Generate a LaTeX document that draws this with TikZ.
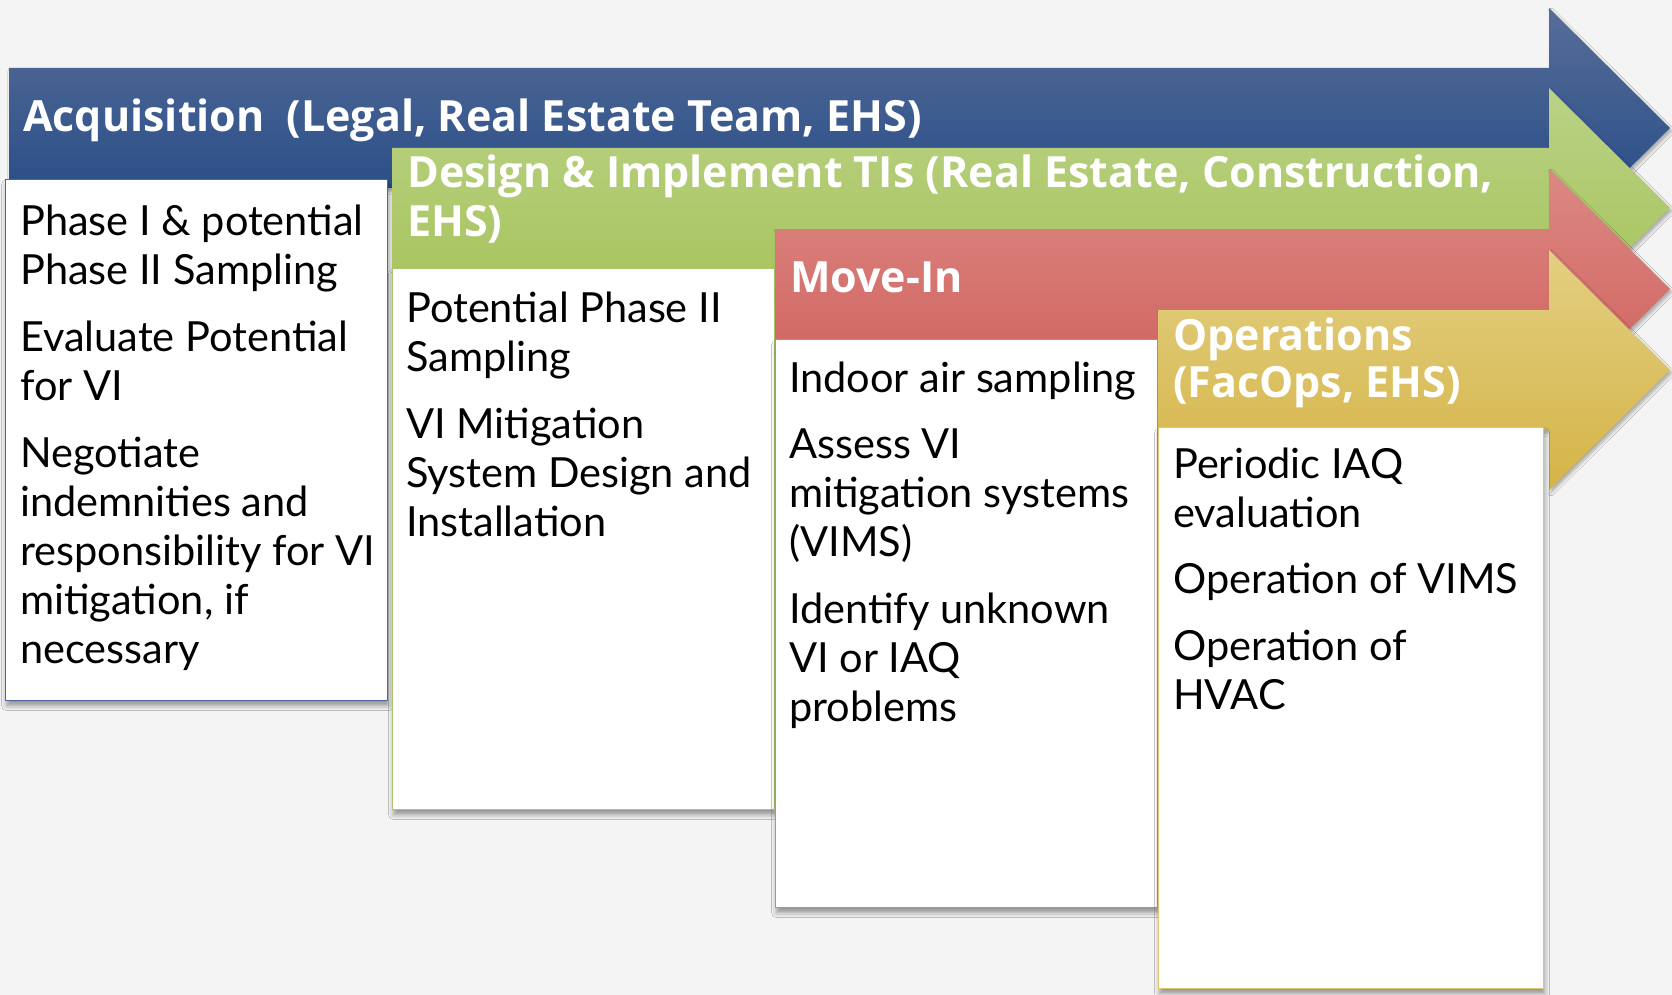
\documentclass[tikz,border=0pt]{standalone}
\usepackage{fontspec}
\setmainfont{Lato}
\newfontfamily\headfont{Open Sans}
\usetikzlibrary{shadows.blur}

\definecolor{bgc}{HTML}{F4F4F4}
% band gradients (top / middle / bottom)
\definecolor{acqTop}{HTML}{586D98}\definecolor{acqMid}{HTML}{1F4A87}\definecolor{acqBot}{HTML}{1C4583}
\definecolor{desTop}{HTML}{BAD286}\definecolor{desMid}{HTML}{ADC964}\definecolor{desBot}{HTML}{A4C155}
\definecolor{movTop}{HTML}{DC8884}\definecolor{movMid}{HTML}{D46D68}\definecolor{movBot}{HTML}{CE5E59}
\definecolor{opsTop}{HTML}{E3CF82}\definecolor{opsMid}{HTML}{DEC460}\definecolor{opsBot}{HTML}{D5B446}
% card outlines
\definecolor{acqLine}{HTML}{4A69A3}
\definecolor{desLine}{HTML}{A9C66A}
\definecolor{movLine}{HTML}{D97E7E}
\definecolor{opsLine}{HTML}{DEC66E}

\newcommand\rows[1]{\begin{tabular}[t]{@{}l@{}}#1\end{tabular}}

% phase band: #1 left x, #2 centre y, #3 colour prefix
\newcommand\phaseband[3]{%
  \path[band, top color=#3Top, middle color=#3Mid, bottom color=#3Bot]
    (#1,#2-60) -- (1549,#2-60) -- (1549,#2-120) -- (1670,#2)
    -- (1549,#2+120) -- (1549,#2+60) -- (#1,#2+60) -- cycle;}

\tikzset{
  band/.style={blur shadow={shadow xshift=2pt, shadow yshift=-3pt,
      shadow blur radius=3pt, shadow opacity=30}},
  card/.style={draw=#1, line width=1.3pt, fill=white, inner sep=0pt,
      anchor=north west,
      blur shadow={shadow xshift=1pt, shadow yshift=-5pt,
      shadow blur radius=5pt, shadow opacity=40}},
  body/.style={anchor=base west, inner sep=0pt, text=black,
      font=\fontsize{41.5}{49}\selectfont},
  head/.style={anchor=base west, inner sep=0pt, text=white,
      font=\headfont\bfseries\fontsize{43}{49}\selectfont},
}

\begin{document}
\begin{tikzpicture}[x=1pt, y=-1pt]
\useasboundingbox (0,0) rectangle (1672,995);
\fill[bgc] (0,0) rectangle (1672,995);

% Acquisition
\phaseband{9}{128}{acq}
\node[card=acqLine, minimum width=382pt, minimum height=521pt] (acqBox) at (5,179) {};
\node[head] (acqTitle) at (23,132) {Acquisition\hspace{0.25em} (Legal, Real Estate Team, EHS)};
\node[body] (acqText) at (20,235) {\rows{Phase I \& potential\\ Phase II Sampling\\[18pt]
  Evaluate Potential\\ for VI\\[18pt]
  Negotiate\\ indemnities and\\ responsibility for VI\\ mitigation, if\\ necessary}};

% Design & Implement
\phaseband{392}{208}{des}
\node[card=desLine, minimum width=382pt, minimum height=541pt] (desBox) at (392,268) {};
\node[head] (desTitle) at (407,188) {\rows{Design \& Implement TIs (Real Estate, Construction,\\ EHS)}};
\node[body] (desText) at (406,322) {\rows{Potential Phase II\\ Sampling\\[18pt]
  VI Mitigation\\ System Design and\\ Installation}};

% Move-In
\phaseband{775}{289}{mov}
\node[card=movLine, minimum width=382pt, minimum height=568pt] (movBox) at (775,339) {};
\node[head] (movTitle) at (790,292) {Move-In};
\node[body] (movText) at (789,392) {\rows{Indoor air sampling\\[17pt]
  Assess VI\\ mitigation systems\\ (VIMS)\\[18pt]
  Identify unknown\\ VI or IAQ\\ problems}};

% Operations
\phaseband{1158}{370}{ops}
\node[card=opsLine, minimum width=385pt, minimum height=561pt] (opsBox) at (1158,427) {};
\node[head, font=\headfont\bfseries\fontsize{43}{47}\selectfont] (opsTitle) at (1173,350) {\rows{Operations\\ (FacOps, EHS)}};
\node[body] (opsText) at (1173,478) {\rows{Periodic IAQ\\ evaluation\\[17pt]
  Operation of VIMS\\[18pt]
  Operation of\\ HVAC}};
\end{tikzpicture}
\end{document}
